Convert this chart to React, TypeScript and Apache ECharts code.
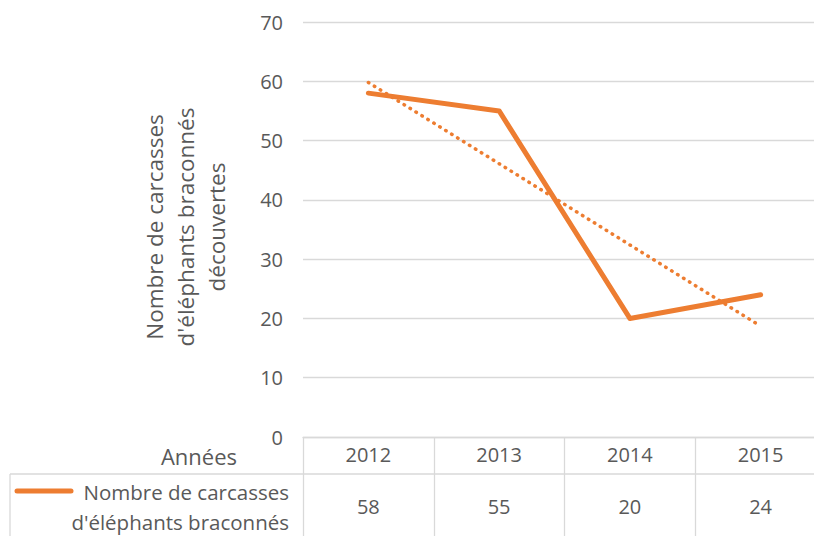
import React, { useEffect, useRef } from "react";
import * as echarts from "echarts";

const years = ["2012", "2013", "2014", "2015"];
const carcasses = [58, 55, 20, 24];
const yTicks = { min: 0, max: 70, interval: 10 };
const seriesName = "Nombre de carcasses d'éléphants braconnés";
const axisTitle = ["Nombre de carcasses", "d'éléphants braconnés", "découvertes"];
const rowHeader = "Années";
const legendLines = ["Nombre de carcasses", "d'éléphants braconnés"];

// linear trend line (least squares), as the spreadsheet computes it
function linearTrend(vals: number[]): number[] {
  const n = vals.length;
  const xs = vals.map((_, i) => i + 1);
  const mx = xs.reduce((a, b) => a + b, 0) / n;
  const my = vals.reduce((a, b) => a + b, 0) / n;
  let num = 0, den = 0;
  for (let i = 0; i < n; i++) {
    num += (xs[i] - mx) * (vals[i] - my);
    den += (xs[i] - mx) * (xs[i] - mx);
  }
  const slope = num / den;
  return xs.map((x) => my + slope * (x - mx));
}

const ORANGE = "#ED7D31";
const TEXT = "#595959";
const GRID = "#D9D9D9";
const FONT = "Open Sans";

export default function App() {
  const ref = useRef<HTMLDivElement>(null);
  useEffect(() => {
    if (!ref.current) return;
    const chart = echarts.init(ref.current, undefined, { renderer: "svg" });
    const trend = linearTrend(carcasses);
    chart.setOption({
      animation: false,
      textStyle: { fontFamily: FONT },
      grid: { left: 303, top: 22, width: 523, height: 415, containLabel: false },
      xAxis: [
        {
          type: "category",
          data: years,
          boundaryGap: true,
          axisLine: { show: true, lineStyle: { color: GRID, width: 1.3 } },
          axisTick: { show: true, length: 110, interval: 0, lineStyle: { color: GRID, width: 1.3 } },
          axisLabel: { color: TEXT, fontSize: 20, fontFamily: FONT, margin: 7, interval: 0 },
          splitLine: { show: false },
        },
        {
          type: "category",
          data: years,
          position: "bottom",
          boundaryGap: true,
          axisLine: { show: false },
          axisTick: { show: false },
          axisLabel: {
            color: TEXT,
            fontSize: 20,
            fontFamily: FONT,
            margin: 59,
            interval: 0,
            formatter: (_v: string, i: number) => String(carcasses[i]),
          },
        },
      ],
      yAxis: {
        type: "value",
        min: yTicks.min,
        max: yTicks.max,
        interval: yTicks.interval,
        axisLine: { show: false },
        axisTick: { show: false },
        axisLabel: { color: TEXT, fontSize: 20, fontFamily: FONT, margin: 20 },
        splitLine: { lineStyle: { color: GRID, width: 1.3 } },
      },
      series: [
        {
          name: seriesName,
          type: "line",
          data: carcasses,
          symbol: "none",
          lineStyle: { color: ORANGE, width: 5, cap: "round", join: "round" },
          z: 3,
        },
        {
          name: "trend",
          type: "line",
          data: trend,
          symbol: "none",
          lineStyle: { color: ORANGE, width: 3.5, type: [0.5, 6.5], cap: "round" },
          z: 2,
        },
      ],
      graphic: [
        {
          type: "text",
          x: 185,
          y: 227,
          rotation: Math.PI / 2,
          style: {
            text: axisTitle.join("\n"),
            fill: TEXT,
            font: `22.5px "${FONT}"`,
            align: "center",
            verticalAlign: "middle",
            lineHeight: 31,
          },
        },
        {
          type: "text",
          x: 237,
          y: 456,
          style: { text: rowHeader, fill: TEXT, font: `22px "${FONT}"`, align: "right", verticalAlign: "middle" },
        },
        {
          type: "line",
          shape: { x1: 10, y1: 474, x2: 840, y2: 474 },
          style: { stroke: GRID, lineWidth: 1.3 },
        },
        {
          type: "line",
          shape: { x1: 10, y1: 474, x2: 10, y2: 536 },
          style: { stroke: GRID, lineWidth: 1.3 },
        },
        {
          type: "line",
          shape: { x1: 17, y1: 491, x2: 71, y2: 491 },
          style: { stroke: ORANGE, lineWidth: 5, lineCap: "round" },
        },
        {
          type: "text",
          x: 289,
          y: 507,
          style: {
            text: legendLines.join("\n"),
            fill: TEXT,
            font: `20.5px "${FONT}"`,
            align: "right",
            verticalAlign: "middle",
            lineHeight: 30,
          },
        },
      ],
    });
    return () => chart.dispose();
  }, []);
  return (
    <div style={{ position: "absolute", left: 0, top: 0, width: 814, height: 536, overflow: "hidden" }}>
      <div ref={ref} style={{ width: 840, height: 536 }} />
    </div>
  );
}
